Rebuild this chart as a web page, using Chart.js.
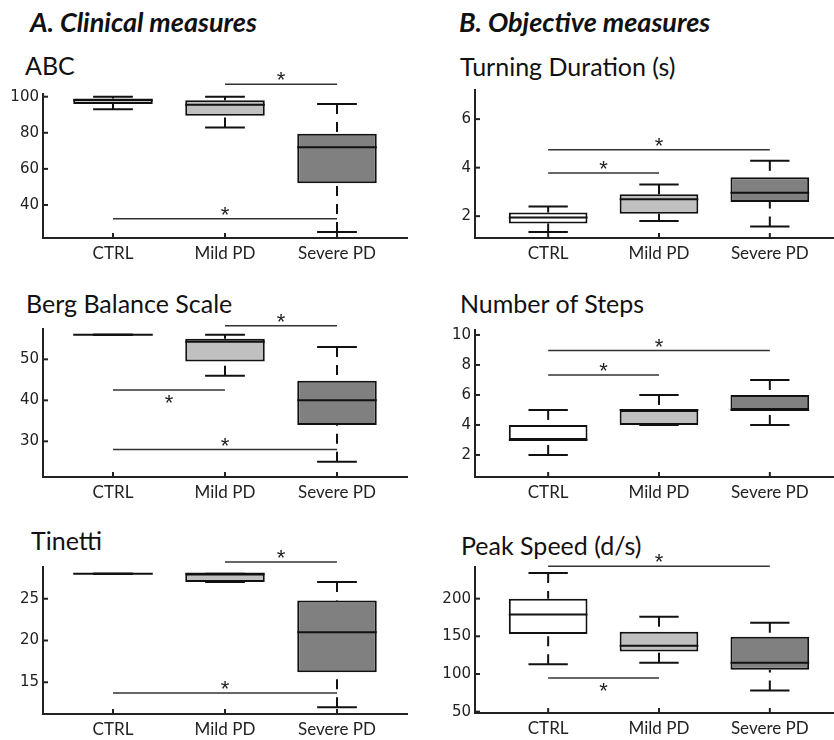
<!DOCTYPE html>
<html>
<head>
<meta charset="utf-8">
<script src="https://cdn.jsdelivr.net/npm/chart.js@4.4.0/dist/chart.umd.min.js"></script>
<style>
  body { margin: 0; background: #fff; }
  #fig { position: relative; width: 834px; height: 740px; overflow: hidden; color: #111; }
  .head { position: absolute; font: italic bold 27px Lato, sans-serif; line-height: 1; white-space: nowrap; }
  .ptitle { position: absolute; font: 25px Lato, sans-serif; line-height: 1; white-space: nowrap; }
  canvas { position: absolute; }
</style>
</head>
<body>
<div id="fig">
  <div class="head" style="left:30px; top:8px;">A. Clinical measures</div>
  <div class="head" style="left:459px; top:8px;">B. Objective measures</div>
</div>

<script>
const groups = ['CTRL', 'Mild PD', 'Severe PD'];

// five-number summaries per group: [min, q1, median, q3, max]
const abcStats     = [[93, 96, 98, 99, 100], [83, 89.5, 95.5, 98, 100], [25, 52, 72, 79.5, 96]];
const bergStats    = [[56, 56, 56, 56, 56], [46, 49.5, 54.3, 55, 56], [25, 34, 40, 44.8, 53]];
const tinettiStats = [[28, 28, 28, 28, 28], [27, 27, 28, 28, 28], [12, 16.2, 21, 24.8, 27]];
const turnStats    = [[1.35, 1.7, 1.95, 2.15, 2.4], [1.8, 2.1, 2.7, 2.9, 3.3], [1.57, 2.58, 2.97, 3.6, 4.28]];
const stepsStats   = [[2, 3, 3, 4, 5], [4, 4, 5, 5, 6], [4, 5, 5, 6, 7]];
const speedStats   = [[113, 153, 179, 200, 234], [115, 130, 137.5, 156, 176], [78, 105.5, 115, 149.5, 168]];

// significance bars: [from group, to group, height]
const abcSig     = [[2, 3, 106.9], [1, 3, 32.4]];
const bergSig    = [[2, 3, 58.2], [1, 2, 42.5], [1, 3, 28]];
const tinettiSig = [[2, 3, 29.4], [1, 3, 13.7]];
const turnSig    = [[1, 2, 3.78], [1, 3, 4.74]];
const stepsSig   = [[1, 2, 7.33], [1, 3, 8.96]];
const speedSig   = [[1, 3, 243], [1, 2, 94.7]];

// y tick labels
const abcTicks     = [40, 60, 80, 100];
const bergTicks    = [30, 40, 50];
const tinettiTicks = [15, 20, 25];
const turnTicks    = [2, 4, 6];
const stepsTicks   = [2, 4, 6, 8, 10];
const speedTicks   = [50, 100, 150, 200];

const fills = ['#ffffff', '#c0c0c0', '#808080'];

// layout: canvas [left, top, width, height], plot area edges in page px
const panels = [
  { title: 'ABC', tx: 25, ty: 53, stats: abcStats, sig: abcSig, ticks: abcTicks, yr: [21.7, 101.5], xr: [0.375, 3.625],
    cv: [0, 40, 417, 235], area: { left: 43, top: 94, right: 407, bottom: 238 }, below: [] },
  { title: 'Turning Duration (s)', tx: 460, ty: 54, stats: turnStats, sig: turnSig, ticks: turnTicks, yr: [1.1, 7.2], xr: [0.34, 3.57],
    cv: [417, 40, 417, 235], area: { left: 475, top: 90, right: 833, bottom: 238 }, below: [] },
  { title: 'Berg Balance Scale', tx: 26, ty: 291, stats: bergStats, sig: bergSig, ticks: bergTicks, yr: [21.3, 57.4], xr: [0.375, 3.625],
    cv: [0, 275, 417, 235], area: { left: 43, top: 329, right: 407, bottom: 477 }, below: [1] },
  { title: 'Number of Steps', tx: 460, ty: 291, stats: stepsStats, sig: stepsSig, ticks: stepsTicks, yr: [0.53, 10.33], xr: [0.34, 3.57],
    cv: [417, 275, 417, 235], area: { left: 475, top: 330, right: 833, bottom: 477 }, below: [] },
  { title: 'Tinetti', tx: 31, ty: 528, stats: tinettiStats, sig: tinettiSig, ticks: tinettiTicks, yr: [11.2, 28.8], xr: [0.375, 3.625],
    cv: [0, 510, 417, 230], area: { left: 43, top: 567, right: 407, bottom: 714 }, below: [] },
  { title: 'Peak Speed (d/s)', tx: 461, ty: 533, stats: speedStats, sig: speedSig, ticks: speedTicks, yr: [48.2, 242], xr: [0.34, 3.57],
    cv: [417, 510, 417, 230], area: { left: 475, top: 567, right: 833, bottom: 713 }, below: [1] }
];

function seg(ctx, x1, y1, x2, y2) {
  ctx.beginPath();
  ctx.moveTo(x1, y1);
  ctx.lineTo(x2, y2);
  ctx.stroke();
}

// medians, dashed whiskers, caps, significance bars and inward ticks
const boxParts = {
  id: 'boxParts',
  afterDatasetsDraw(chart, args, opts) {
    const { ctx, scales: { x, y } } = chart;
    const p = opts.panel;
    const meta = chart.getDatasetMeta(0);
    ctx.save();
    ctx.strokeStyle = '#111';
    ctx.lineWidth = 2;
    p.stats.forEach((s, i) => {
      const bar = meta.data[i];
      const cx = bar.x, w = bar.width;
      const [lo, q1, med, q3, hi] = s.map(v => y.getPixelForValue(v));
      ctx.setLineDash([10, 8]);
      if (q3 - hi > 1) seg(ctx, cx, hi, cx, q3);
      if (lo - q1 > 1) seg(ctx, cx, lo, cx, q1);
      ctx.setLineDash([]);
      seg(ctx, cx - w / 4, hi, cx + w / 4, hi);
      seg(ctx, cx - w / 4, lo, cx + w / 4, lo);
      seg(ctx, cx - w / 2, med, cx + w / 2, med);
    });

    ctx.strokeStyle = '#333';
    ctx.fillStyle = '#222';
    ctx.lineWidth = 1.5;
    ctx.font = '22px "Liberation Sans"';
    ctx.textAlign = 'center';
    ctx.textBaseline = 'alphabetic';
    p.sig.forEach((s, i) => {
      const x1 = x.getPixelForValue(s[0]), x2 = x.getPixelForValue(s[1]);
      const py = y.getPixelForValue(s[2]);
      seg(ctx, x1, py, x2, py);
      const m = ctx.measureText('*');
      const cy = p.below.includes(i) ? py + 9 : py - 8;
      ctx.fillText('*', (x1 + x2) / 2, cy + (m.actualBoundingBoxAscent - m.actualBoundingBoxDescent) / 2);
    });
    ctx.restore();
  },
  afterDraw(chart) {
    const { ctx, chartArea: a, scales: { x, y } } = chart;
    ctx.save();
    ctx.strokeStyle = '#222';
    ctx.lineWidth = 2;
    y.ticks.forEach(t => {
      const py = y.getPixelForValue(t.value);
      seg(ctx, a.left, py, a.left + 5, py);
    });
    x.ticks.forEach(t => {
      const px = x.getPixelForValue(t.value);
      seg(ctx, px, a.bottom, px, a.bottom - 5);
    });
    ctx.restore();
  }
};

const fig = document.getElementById('fig');

panels.forEach(p => {
  const t = document.createElement('div');
  t.className = 'ptitle';
  t.style.left = p.tx + 'px';
  t.style.top = p.ty + 'px';
  t.textContent = p.title;
  fig.appendChild(t);

  const [cl, ct, cw, ch] = p.cv;
  const cvs = document.createElement('canvas');
  cvs.width = cw;
  cvs.height = ch;
  cvs.style.left = cl + 'px';
  cvs.style.top = ct + 'px';
  cvs.style.width = cw + 'px';
  cvs.style.height = ch + 'px';
  fig.appendChild(cvs);

  new Chart(cvs, {
    type: 'bar',
    data: {
      datasets: [{
        data: p.stats.map((s, i) => ({ x: i + 1, y: [s[1], s[3]] })),
        backgroundColor: fills,
        borderColor: '#111',
        borderWidth: 2,
        borderSkipped: false,
        categoryPercentage: 1,
        barPercentage: 0.71
      }]
    },
    options: {
      responsive: false,
      animation: false,
      layout: {
        padding: { left: 0, top: p.area.top - ct, right: cl + cw - p.area.right, bottom: 0 }
      },
      plugins: {
        legend: { display: false },
        tooltip: { enabled: false },
        boxParts: { panel: p }
      },
      scales: {
        x: {
          type: 'linear',
          offset: false,
          min: p.xr[0],
          max: p.xr[1],
          afterBuildTicks: axis => { axis.ticks = groups.map((g, i) => ({ value: i + 1 })); },
          afterFit: axis => { axis.height = ct + ch - p.area.bottom; },
          grid: { display: false, drawTicks: false },
          border: { display: true, color: '#222', width: 2 },
          ticks: {
            callback: v => groups[v - 1] || '',
            color: '#222',
            font: { family: 'Lato', size: 17 },
            padding: 5,
            maxRotation: 0
          }
        },
        y: {
          type: 'linear',
          min: p.yr[0],
          max: p.yr[1],
          afterBuildTicks: axis => { axis.ticks = p.ticks.map(v => ({ value: v })); },
          afterFit: axis => { axis.width = p.area.left - cl; },
          grid: { display: false, drawTicks: false },
          border: { display: true, color: '#222', width: 2 },
          ticks: {
            color: '#222',
            font: { family: 'DejaVu Sans', size: 15 },
            padding: 4
          }
        }
      }
    },
    plugins: [boxParts]
  });
});
</script>
</body>
</html>
